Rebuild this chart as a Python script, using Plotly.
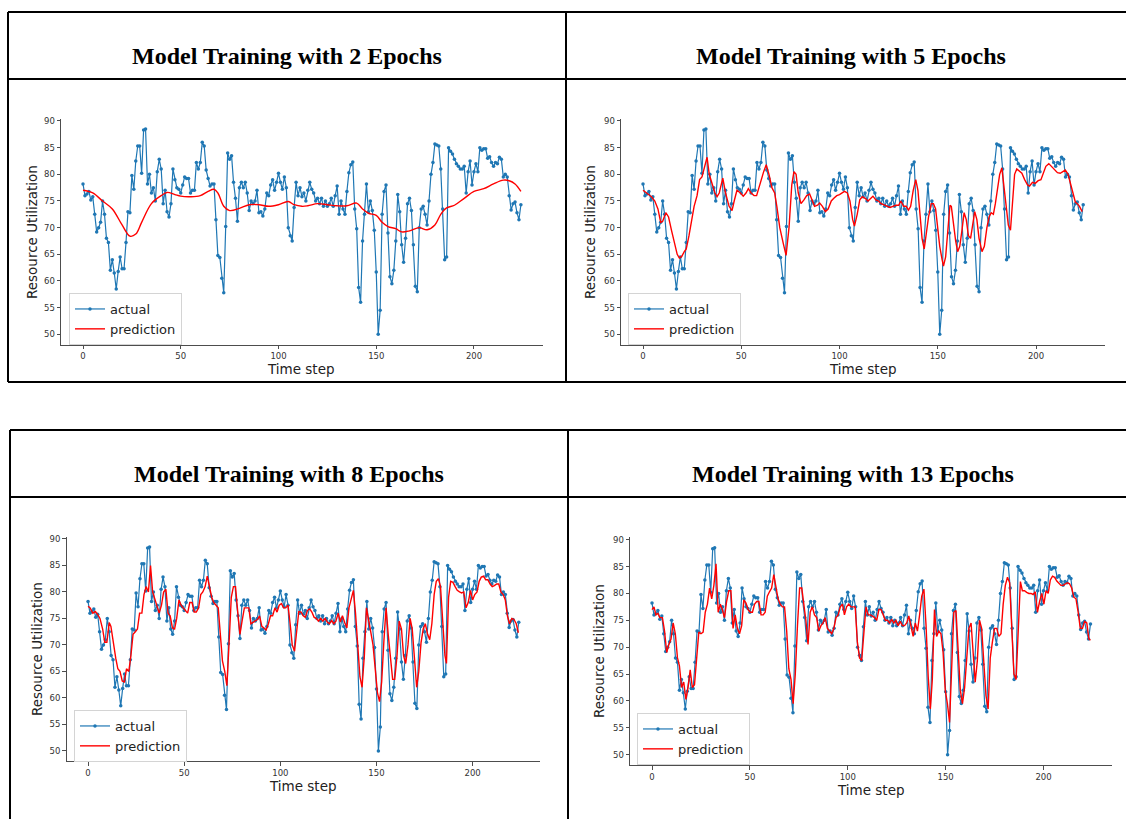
import plotly.graph_objects as go

W, H = 1126, 819

# ---------------- data ----------------
actual = [
    78.2, 76.0, 76.3, 76.8, 75.2, 75.8, 72.5, 69.2, 70.0, 71.0,
    75.0, 72.5, 68.0, 67.2, 62.0, 64.0, 61.5, 58.5, 61.8, 64.5,
    62.3, 62.3, 67.2, 73.0, 72.8, 79.8, 77.2, 82.5, 85.3, 85.3,
    80.2, 88.3, 88.5, 78.2, 80.0, 76.5, 77.5, 75.0, 80.5, 82.8,
    81.0, 74.5, 77.0, 73.0, 72.0, 74.5, 81.0, 79.0, 77.5, 77.2,
    76.5, 78.0, 79.5, 79.2, 79.2, 76.5, 77.0, 77.0, 82.2, 81.0,
    82.2, 86.0, 85.3, 80.8, 79.2, 77.8, 78.2, 78.2, 71.5, 64.8,
    64.4, 60.5, 57.8, 70.2, 84.0, 82.8, 83.5, 78.5, 75.5, 71.2,
    77.5, 78.5, 77.5, 78.5, 76.5, 73.2, 75.0, 74.5, 75.0, 77.0,
    72.8, 73.0, 72.2, 73.5, 76.5, 76.0, 78.0, 79.0, 77.0, 78.5,
    80.2, 78.5, 77.2, 79.5, 77.5, 70.0, 68.5, 67.5, 73.8, 78.5,
    76.0, 77.5, 75.8, 76.5, 75.0, 77.0, 78.5, 77.2, 76.5, 75.0,
    75.5, 74.5, 75.5, 74.0, 75.0, 74.0, 74.5, 75.5, 74.0, 76.0,
    77.8, 72.5, 75.0, 73.5, 72.5, 76.8, 80.3, 81.8, 82.3, 73.5,
    69.8, 58.8, 56.0, 67.5, 72.5, 78.2, 73.0, 75.0, 73.2, 69.5,
    61.7, 50.0, 54.5, 72.5, 76.8, 78.0, 69.0, 60.8, 59.5, 62.0,
    67.5, 76.2, 73.0, 66.8, 63.5, 68.0, 74.5, 75.5, 73.2, 66.8,
    59.0, 58.0, 70.0, 73.5, 74.0, 72.5, 70.5, 75.0, 80.0, 82.2,
    85.7, 85.5, 85.3, 81.0, 73.5, 64.0, 64.5, 85.0, 84.3, 83.8,
    82.8, 82.0, 81.5, 81.0, 81.0, 81.5, 76.5, 80.5, 82.5, 78.0,
    80.5, 82.0, 80.5, 85.0, 84.5, 84.8, 84.8, 83.0, 83.3, 82.2,
    81.5, 82.2, 82.0, 83.2, 82.8, 79.5, 80.0, 79.5, 76.0, 73.3,
    74.5, 74.8, 72.8, 71.5, 74.3,
]
time_steps = list(range(len(actual)))

# predictions: (time step, value) pairs
pred2 = [(0, 77.0), (5, 76.5), (10, 75.0), (15, 73.5), (20, 70.5), (24, 68.4), (27, 68.8),
         (30, 71.0), (35, 74.5), (40, 76.0), (43, 76.6), (47, 76.2), (50, 75.9), (55, 75.8),
         (60, 76.0), (64, 76.8), (67, 77.2), (69, 76.5), (72, 74.0), (75, 73.2), (80, 73.6),
         (85, 74.3), (90, 74.3), (95, 74.0), (100, 74.3), (105, 74.9), (108, 74.3), (112, 74.0),
         (115, 74.1), (120, 74.5), (125, 74.3), (130, 74.1), (135, 74.1), (140, 74.6), (143, 73.5),
         (146, 72.7), (150, 72.3), (153, 71.0), (156, 70.2), (160, 69.8), (163, 69.2), (167, 69.4),
         (172, 70.0), (176, 69.6), (180, 70.5), (183, 72.5), (186, 73.7), (190, 74.2), (195, 75.5),
         (200, 76.8), (205, 77.3), (210, 78.2), (215, 78.9), (218, 78.8), (221, 78.2), (224, 76.8)]

pred5 = [(0, 77.0), (1.6, 76.5), (4.3, 75.8), (6, 75.0), (7.6, 73.5), (9, 71.0), (10, 71.2), (11.6, 72.8),
         (13, 72.0), (14.5, 69.5), (16, 67.0), (17.4, 65.0), (18.5, 64.3), (19.7, 64.6), (21, 65.5),
         (22, 66.0), (23.4, 68.5), (24.6, 71.0), (26, 74.0), (27.5, 76.0), (28.8, 79.0), (30, 79.5),
         (31.5, 82.0), (32.6, 83.2), (33.7, 80.0), (35.1, 78.5), (36.6, 76.5), (37.7, 75.8), (38.8, 76.5),
         (40.6, 79.3), (42, 76.5), (43.8, 74.0), (45.3, 73.2), (46.4, 75.0), (47.8, 77.0), (49.6, 76.5),
         (51, 75.9), (52.4, 76.5), (53.6, 77.3), (55, 76.5), (56.5, 76.0), (57.8, 76.0), (59.6, 78.5),
         (61.4, 80.5), (62.7, 81.8), (64.1, 80.0), (65.6, 77.5), (67, 76.5), (68.1, 74.0), (69.6, 70.0),
         (71.4, 67.0), (72.8, 64.8), (74.3, 70.0), (75.7, 78.0), (76.8, 80.5), (77.9, 80.0), (79, 76.5),
         (80.4, 74.5), (81.9, 75.2), (83.3, 76.0), (84.8, 76.3), (85.9, 75.3), (87.3, 74.0), (88.8, 74.2),
         (89.9, 74.6), (91.3, 74.0), (92.8, 73.0), (94.2, 73.5), (95.8, 75.0), (97.1, 75.5), (98.6, 76.0),
         (100, 76.2), (101.3, 76.5), (102.5, 76.8), (104, 76.5), (105.3, 75.0), (106.7, 71.5), (107.6, 70.3),
         (109, 72.5), (110.3, 75.2), (111.6, 75.8), (113, 75.5), (114.5, 75.0), (115.8, 75.5), (117, 75.9),
         (118.5, 75.2), (119.9, 75.0), (121.2, 74.5), (122.5, 74.3), (123.9, 74.0), (125.7, 73.8),
         (127.2, 74.0), (128.6, 74.2), (130.1, 74.2), (131.2, 75.0), (132.6, 74.0), (133.9, 74.0),
         (135.1, 73.3), (136.2, 74.0), (137.5, 77.0), (138.8, 79.0), (139.9, 77.0), (141, 72.0), (142, 68.0),
         (143.1, 66.0), (144.2, 69.0), (145.3, 72.0), (146.7, 74.5), (147.8, 74.5), (148.9, 73.5), (150, 70.0),
         (151, 66.5), (152.2, 64.0), (152.9, 62.8), (154, 64.5), (155.1, 70.0), (156.2, 74.2), (156.9, 74.0),
         (158, 70.5), (159.1, 67.5), (160.1, 65.5), (161.2, 66.5), (162.3, 69.5), (163.4, 72.8), (164.5, 71.5),
         (165.6, 68.5), (166.7, 68.0), (167.8, 70.5), (168.8, 73.0), (169.9, 71.5), (171, 68.0), (172.5, 65.5),
         (173.7, 66.5), (175, 70.0), (176.1, 72.0), (177.2, 72.8), (178.3, 72.5), (179.3, 74.5), (180.4, 77.0),
         (181.5, 80.0), (182.6, 81.2), (183.7, 78.0), (184.8, 74.0), (185.9, 70.5), (187, 69.5), (188, 75.0),
         (189.1, 80.0), (190.2, 81.0), (191.3, 80.7), (192.8, 80.2), (194.2, 79.0), (195.7, 78.0),
         (196.7, 77.8), (198.2, 78.5), (199.6, 78.3), (201.1, 78.8), (202.5, 79.0), (203.6, 80.0), (205, 81.5),
         (206.5, 82.0), (207.9, 81.5), (209.4, 81.0), (210.9, 80.3), (212.3, 80.2), (213.8, 80.5),
         (214.9, 80.8), (216.3, 80.0), (217.4, 78.5), (218.5, 76.5), (220, 74.8), (221, 74.5), (222.1, 74.0),
         (223.5, 73.0)]

pred8 = [(0, 77.3), (1.1, 77.0), (2.5, 76.0), (3.8, 76.3), (4.9, 75.8), (6.2, 75.0), (7.6, 73.0), (8.7, 70.5),
         (9.8, 70.5), (11, 74.2), (11.9, 73.5), (13.2, 70.0), (14.4, 67.5), (15.5, 65.5), (16.6, 65.0),
         (17.8, 63.2), (18.9, 63.0), (20, 65.5), (21.2, 65.0), (22.3, 68.0), (23.4, 72.0), (24.6, 72.5),
         (25.7, 73.0), (26.8, 76.0), (28, 76.0), (29.1, 79.5), (30.2, 81.0), (31.4, 80.0), (32.5, 85.0),
         (33.6, 80.0), (34.8, 78.5), (35.9, 77.0), (37, 76.0), (38.2, 77.5), (39.3, 80.0), (40.5, 80.5),
         (41.6, 76.0), (42.7, 75.5), (43.9, 73.2), (45, 73.0), (46.1, 75.0), (47.3, 78.5), (48.4, 77.5),
         (49.5, 77.0), (50.7, 76.5), (51.8, 76.0), (52.9, 78.0), (54.1, 78.0), (55.2, 76.2), (56.3, 76.2),
         (57.5, 77.0), (58.6, 79.5), (59.7, 80.0), (60.9, 81.0), (62, 83.0), (63.1, 81.0), (64.3, 79.0),
         (65.4, 78.0), (66.5, 77.5), (67.7, 77.0), (68.8, 72.0), (69.9, 67.0), (71.1, 65.0), (72.2, 62.3),
         (73.3, 70.0), (74.5, 79.0), (75.6, 81.0), (76.7, 81.0), (77.9, 76.0), (79, 72.0), (80.1, 74.5),
         (81.3, 77.0), (82.4, 77.0), (83.6, 77.0), (84.7, 74.0), (85.8, 74.3), (87, 74.5), (88.1, 74.8),
         (89.2, 75.5), (90.4, 73.5), (91.5, 73.2), (92.6, 72.8), (93.8, 74.0), (94.9, 75.5), (96, 75.5),
         (97.2, 77.0), (98.3, 76.2), (99.4, 77.5), (100.6, 77.8), (101.7, 77.0), (102.8, 77.0), (104, 77.5),
         (105.1, 74.0), (106.2, 70.0), (107.4, 68.8), (108.5, 72.5), (109.6, 76.3), (110.8, 76.2),
         (111.9, 75.5), (113, 75.2), (114.1, 76.5), (115.3, 76.8), (116.4, 76.2), (117.6, 75.2), (118.7, 75.0),
         (119.8, 74.5), (121, 75.0), (122.1, 74.5), (123.3, 75.0), (124.4, 74.3), (125.5, 74.0), (126.7, 74.6),
         (127.8, 74.0), (128.9, 74.5), (130.1, 76.0), (131.2, 74.3), (132.3, 75.5), (133.5, 74.2),
         (134.6, 73.2), (135.7, 77.0), (136.9, 79.0), (138, 80.3), (139.1, 76.0), (140.3, 69.0), (141.4, 64.0),
         (142.5, 62.0), (143.7, 68.0), (144.8, 77.0), (145.9, 75.0), (147, 72.5), (148.2, 70.0), (149.3, 66.0),
         (150.5, 61.0), (151.6, 59.3), (152.7, 63.0), (153.9, 71.0), (155, 77.0), (156.1, 72.0), (157.3, 68.0),
         (158.4, 63.5), (159.5, 63.5), (160.7, 68.0), (161.8, 74.5), (163, 73.0), (164.1, 68.0), (165.2, 66.5),
         (166.4, 70.0), (167.5, 75.0), (168.6, 73.0), (169.8, 67.0), (170.9, 62.0), (172, 65.0), (173.2, 70.5),
         (174.3, 73.0), (175.4, 74.0), (176.6, 72.0), (177.7, 71.0), (178.8, 74.0), (180, 79.5), (181.1, 82.0),
         (182.2, 82.5), (183.3, 81.0), (184.5, 75.0), (185.6, 68.0), (186.4, 66.5), (187.5, 79.0),
         (188.6, 82.0), (189.8, 81.8), (190.9, 81.0), (192, 80.3), (193.2, 80.0), (194.3, 79.8), (195.4, 80.0),
         (196.6, 77.0), (197.7, 78.0), (198.9, 80.3), (200, 78.5), (201.1, 79.5), (202.3, 80.0), (203.4, 82.0),
         (204.5, 82.8), (205.7, 83.0), (206.8, 82.3), (207.9, 82.3), (209.1, 81.5), (210.2, 81.0),
         (211.3, 81.2), (212.5, 81.5), (213.6, 81.5), (214.7, 80.0), (215.9, 79.5), (217, 78.5), (218.1, 75.5),
         (219.2, 74.0), (220.4, 75.0), (221.5, 74.8), (222.7, 74.0), (223.8, 72.3)]

pred13 = [(0, 77.0), (1, 77.5), (2, 76.0), (3, 76.3), (4, 75.5), (5.3, 75.5), (6.4, 73.0), (7.5, 69.0),
          (8.6, 70.5), (9.7, 71.5), (10.8, 74.5), (11.9, 72.5), (13, 68.0), (14, 66.5), (15.1, 62.5),
          (16.2, 63.5), (17.3, 60.3), (18.4, 62.5), (19.5, 65.8), (20.6, 62.5), (21.7, 63.0), (22.8, 68.0),
          (23.9, 72.8), (25, 72.5), (26.1, 72.8), (27.2, 76.5), (28.3, 78.0), (29.4, 81.0), (30.5, 79.0),
          (31.6, 81.5), (32.7, 85.5), (33.8, 76.5), (34.9, 78.0), (35.9, 77.0), (37, 75.5), (38.1, 78.5),
          (39.2, 80.5), (40.3, 80.5), (41.4, 73.5), (42.5, 76.0), (43.6, 73.5), (44.7, 72.5), (45.8, 74.0),
          (46.9, 78.8), (48, 78.2), (49.1, 77.0), (50.2, 76.5), (51.3, 76.5), (52.4, 78.0), (53.5, 78.5),
          (54.6, 78.5), (55.7, 76.0), (56.8, 76.0), (57.8, 76.5), (58.9, 79.5), (60, 80.3), (61.1, 81.0),
          (62.2, 83.5), (63.3, 81.0), (64.4, 79.0), (65.5, 78.0), (66.6, 77.5), (67.7, 77.5), (68.8, 73.0),
          (69.9, 66.0), (71, 64.0), (72.1, 59.5), (73.2, 65.0), (74.3, 74.0), (75.4, 81.0), (76.5, 81.0),
          (77.6, 78.0), (78.6, 75.0), (79.7, 70.5), (80.8, 76.5), (81.9, 77.5), (83, 76.0), (84.1, 75.5),
          (85.2, 73.0), (86.3, 74.0), (87.4, 74.5), (88.5, 75.5), (89.6, 73.5), (90.7, 73.0), (91.8, 72.5),
          (92.9, 73.5), (94, 75.5), (95.1, 76.0), (96.2, 77.5), (97.3, 78.0), (98.3, 76.0), (99.4, 77.5),
          (100.5, 78.0), (101.6, 77.5), (102.7, 77.5), (103.8, 77.5), (104.9, 71.0), (106, 68.0), (107.1, 67.5),
          (108.2, 73.5), (109.3, 77.5), (110.4, 76.0), (111.5, 76.0), (112.6, 75.8), (113.7, 75.5), (114.8, 75.0),
          (115.9, 77.0), (117, 77.0), (118.1, 76.0), (119.2, 75.0), (120.3, 75.0), (121.4, 74.5), (122.4, 75.2),
          (123.5, 74.5), (124.6, 75.0), (125.7, 74.0), (126.8, 74.8), (127.9, 74.0), (129, 74.0), (130.1, 74.5),
          (131.2, 75.8), (132.3, 73.5), (133.4, 72.0), (134.5, 74.5), (135.6, 73.0), (136.7, 76.0), (137.8, 79.5),
          (138.9, 80.8), (140, 74.0), (141.1, 64.5), (142.2, 58.5), (143.2, 64.0), (144.3, 77.0), (145.4, 72.0),
          (146.5, 73.0), (147.6, 72.5), (148.7, 69.0), (149.8, 62.0), (150.9, 59.5), (152, 56.0), (153.1, 66.0),
          (154.2, 76.5), (155.3, 76.8), (156.4, 70.0), (157.5, 62.0), (158.6, 59.5), (159.7, 62.5), (160.8, 68.0),
          (161.9, 73.5), (163, 74.5), (164.1, 68.0), (165.1, 63.5), (166.2, 67.5), (167.3, 75.0), (168.4, 73.5),
          (169.5, 67.0), (170.6, 61.0), (171.7, 58.5), (172.8, 68.0), (173.9, 71.0), (175, 73.5), (176.1, 73.5),
          (177.2, 72.0), (178.3, 72.5), (179.4, 78.0), (180.5, 81.5), (181.6, 83.0), (182.7, 82.0), (183.8, 73.0),
          (184.9, 65.0), (186, 64.0), (187.1, 72.0), (188.2, 82.2), (189.2, 80.5), (190.3, 80.5), (191.4, 80.2),
          (192.5, 80.0), (193.6, 80.0), (194.7, 79.8), (195.8, 80.3), (196.9, 76.5), (198, 78.5), (199.1, 80.0),
          (200.2, 78.0), (201.3, 80.5), (202.4, 80.0), (203.5, 82.5), (204.6, 83.2), (205.7, 83.0), (206.8, 82.3),
          (207.8, 82.0), (208.9, 81.5), (210, 81.5), (211.1, 81.8), (212.2, 82.0), (213.3, 81.8), (214.4, 81.0),
          (215.5, 79.3), (216.6, 79.0), (217.7, 76.5), (218.8, 73.5), (219.9, 73.5), (221, 74.8), (222.1, 74.5),
          (223.2, 71.5), (224, 71.3)]

panel_titles = ["Model Training with 2 Epochs", "Model Training with 5 Epochs",
                "Model Training with 8 Epochs", "Model Training with 13 Epochs"]
predictions = [pred2, pred5, pred8, pred13]
x_tick_vals = [0, 50, 100, 150, 200]
y_tick_vals = [50, 55, 60, 65, 70, 75, 80, 85, 90]
x_label = "Time step"
y_label = "Resource Utilization"
series_names = ["actual", "prediction"]

# ---------------- layout geometry (pixels) ----------------
def px(x):
    return x / W

def py(y):
    return 1 - y / H

panels = [
    dict(xdom=(61.1, 542.8), ydom=(118.7, 344.6), title=(287, 56), ytitle=(32, 232), xtitle=(301, 369), leg=(69, 293)),
    dict(xdom=(621.0, 1105.2), ydom=(118.7, 344.6), title=(851, 56), ytitle=(590, 232), xtitle=(863, 369), leg=(628, 293)),
    dict(xdom=(66.5, 540.3), ydom=(536.7, 761.1), title=(289, 474), ytitle=(37, 649), xtitle=(303, 786), leg=(74, 710)),
    dict(xdom=(630.1, 1112.4), ydom=(537.4, 765.0), title=(853, 474), ytitle=(599, 651), xtitle=(871, 790), leg=(637, 713)),
]

BLUE = "#1f77b4"
RED = "#ff0000"
AX = "#4d4d4d"
TICKFONT = dict(family="DejaVu Sans", size=8.5, color="#333333")
LABELFONT = dict(family="DejaVu Sans", size=13.5, color="#222222")

fig = go.Figure()
layout = dict(
    width=W, height=H, margin=dict(l=0, r=0, t=0, b=0, autoexpand=False),
    paper_bgcolor="white", plot_bgcolor="white", showlegend=True,
    annotations=[], shapes=[],
)

for i, (p, pred, ttl) in enumerate(zip(panels, predictions, panel_titles)):
    n = i + 1
    xa = "x" if n == 1 else f"x{n}"
    ya = "y" if n == 1 else f"y{n}"
    leg = "legend" if n == 1 else f"legend{n}"
    pt = [a for a, b in pred]
    pv = [b for a, b in pred]
    fig.add_trace(go.Scatter(
        x=time_steps, y=actual, mode="lines+markers", name=series_names[0],
        line=dict(color=BLUE, width=1.2), marker=dict(color=BLUE, size=3.5),
        xaxis=xa, yaxis=ya, legend=leg))
    fig.add_trace(go.Scatter(
        x=pt, y=pv, mode="lines", name=series_names[1],
        line=dict(color=RED, width=1.4, shape="spline" if n == 1 else "linear"),
        xaxis=xa, yaxis=ya, legend=leg))

    xkey = "xaxis" if n == 1 else f"xaxis{n}"
    ykey = "yaxis" if n == 1 else f"yaxis{n}"
    layout[xkey] = dict(
        domain=[px(p["xdom"][0]), px(p["xdom"][1])], anchor=ya,
        range=[-11.2, 235.2], tickvals=x_tick_vals, ticks="outside", ticklen=3.5,
        tickwidth=1, tickcolor=AX, showline=True, linecolor=AX, linewidth=1,
        showgrid=False, zeroline=False, tickfont=TICKFONT, fixedrange=True)
    layout[ykey] = dict(
        domain=[py(p["ydom"][1]), py(p["ydom"][0])], anchor=xa,
        range=[48.075, 90.425], tickvals=y_tick_vals, ticks="outside", ticklen=3.5,
        tickwidth=1, tickcolor=AX, showline=True, linecolor=AX, linewidth=1,
        showgrid=False, zeroline=False, tickfont=TICKFONT, fixedrange=True)
    layout[leg] = dict(
        x=px(p["leg"][0]), y=py(p["leg"][1]), xanchor="left", yanchor="top",
        xref="paper", yref="paper",
        bgcolor="white", bordercolor="#d4d4d4", borderwidth=1,
        font=dict(family="DejaVu Sans", size=13, color="#222222"),
        itemwidth=30, tracegroupgap=0)

    layout["annotations"] += [
        dict(text=ttl, x=px(p["title"][0]), y=py(p["title"][1]), xref="paper", yref="paper",
             xanchor="center", yanchor="middle", showarrow=False,
             font=dict(family="Liberation Serif", size=24, color="black", weight="bold")),
        dict(text=y_label, x=px(p["ytitle"][0]), y=py(p["ytitle"][1]), xref="paper", yref="paper",
             xanchor="center", yanchor="middle", showarrow=False, textangle=-90, font=LABELFONT),
        dict(text=x_label, x=px(p["xtitle"][0]), y=py(p["xtitle"][1]), xref="paper", yref="paper",
             xanchor="center", yanchor="middle", showarrow=False, font=LABELFONT),
    ]

# table frame lines
def hline(x0, x1, y):
    return dict(type="line", xref="paper", yref="paper", x0=px(x0), x1=px(x1), y0=py(y), y1=py(y),
                line=dict(color="black", width=2))

def vline(x, y0, y1):
    return dict(type="line", xref="paper", yref="paper", x0=px(x), x1=px(x), y0=py(y0), y1=py(y1),
                line=dict(color="black", width=2))

layout["shapes"] = [
    hline(8, 1126, 12), hline(8, 1126, 79), hline(8, 1126, 382),
    vline(8, 12, 382), vline(566, 12, 382),
    hline(10, 1126, 430), hline(10, 1126, 497),
    vline(10, 430, 819), vline(568, 430, 819),
]

fig.update_layout(**layout)
fig.write_html("out.html", config={"displayModeBar": False},
               post_script="document.body.style.margin='0';document.body.style.overflow='hidden';")
